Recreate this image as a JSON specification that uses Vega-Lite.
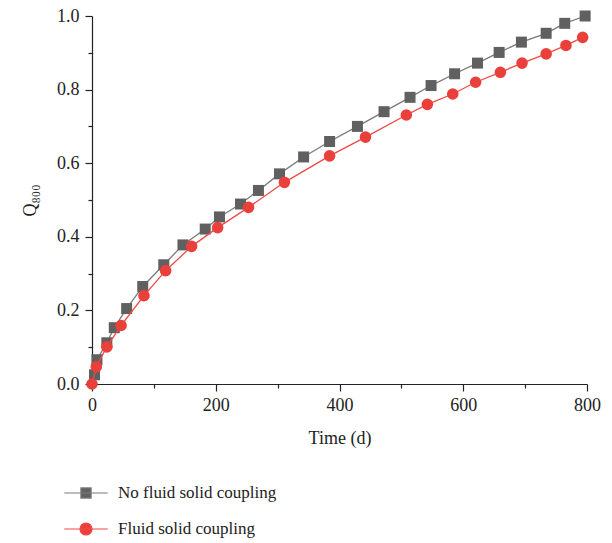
{
  "$schema": "https://vega.github.io/schema/vega-lite/v6.json",
  "width": 495,
  "height": 368,
  "autosize": {"type": "none"},
  "padding": {"left": 92, "top": 16, "right": 25, "bottom": 159},
  "background": "white",
  "config": {
    "view": {"stroke": null},
    "font": "Liberation Serif",
    "axis": {
      "labelFont": "Liberation Serif",
      "titleFont": "Liberation Serif",
      "labelFontSize": 18,
      "titleFontSize": 18,
      "labelColor": "#222",
      "titleColor": "#222",
      "titleFontWeight": "normal",
      "domainColor": "#222",
      "tickColor": "#222",
      "domainWidth": 1.2,
      "tickWidth": 1.2,
      "grid": false
    }
  },
  "datasets": {
    "pts": [
      {"x": 4, "y": 0.025, "series": "No fluid solid coupling"},
      {"x": 8, "y": 0.066, "series": "No fluid solid coupling"},
      {"x": 24, "y": 0.112, "series": "No fluid solid coupling"},
      {"x": 36, "y": 0.153, "series": "No fluid solid coupling"},
      {"x": 56, "y": 0.205, "series": "No fluid solid coupling"},
      {"x": 82, "y": 0.265, "series": "No fluid solid coupling"},
      {"x": 116, "y": 0.324, "series": "No fluid solid coupling"},
      {"x": 147, "y": 0.378, "series": "No fluid solid coupling"},
      {"x": 183, "y": 0.421, "series": "No fluid solid coupling"},
      {"x": 206, "y": 0.454, "series": "No fluid solid coupling"},
      {"x": 240, "y": 0.489, "series": "No fluid solid coupling"},
      {"x": 269, "y": 0.526, "series": "No fluid solid coupling"},
      {"x": 303, "y": 0.571, "series": "No fluid solid coupling"},
      {"x": 342, "y": 0.617, "series": "No fluid solid coupling"},
      {"x": 384, "y": 0.659, "series": "No fluid solid coupling"},
      {"x": 429, "y": 0.700, "series": "No fluid solid coupling"},
      {"x": 472, "y": 0.740, "series": "No fluid solid coupling"},
      {"x": 514, "y": 0.779, "series": "No fluid solid coupling"},
      {"x": 548, "y": 0.811, "series": "No fluid solid coupling"},
      {"x": 586, "y": 0.843, "series": "No fluid solid coupling"},
      {"x": 623, "y": 0.872, "series": "No fluid solid coupling"},
      {"x": 658, "y": 0.901, "series": "No fluid solid coupling"},
      {"x": 694, "y": 0.929, "series": "No fluid solid coupling"},
      {"x": 734, "y": 0.953, "series": "No fluid solid coupling"},
      {"x": 764, "y": 0.980, "series": "No fluid solid coupling"},
      {"x": 797, "y": 1.0, "series": "No fluid solid coupling"},
      {"x": 0, "y": 0, "series": "Fluid solid coupling"},
      {"x": 7, "y": 0.047, "series": "Fluid solid coupling"},
      {"x": 24, "y": 0.101, "series": "Fluid solid coupling"},
      {"x": 47, "y": 0.159, "series": "Fluid solid coupling"},
      {"x": 84, "y": 0.240, "series": "Fluid solid coupling"},
      {"x": 119, "y": 0.308, "series": "Fluid solid coupling"},
      {"x": 161, "y": 0.374, "series": "Fluid solid coupling"},
      {"x": 203, "y": 0.425, "series": "Fluid solid coupling"},
      {"x": 253, "y": 0.480, "series": "Fluid solid coupling"},
      {"x": 311, "y": 0.548, "series": "Fluid solid coupling"},
      {"x": 384, "y": 0.620, "series": "Fluid solid coupling"},
      {"x": 442, "y": 0.671, "series": "Fluid solid coupling"},
      {"x": 508, "y": 0.731, "series": "Fluid solid coupling"},
      {"x": 542, "y": 0.760, "series": "Fluid solid coupling"},
      {"x": 583, "y": 0.788, "series": "Fluid solid coupling"},
      {"x": 620, "y": 0.820, "series": "Fluid solid coupling"},
      {"x": 660, "y": 0.847, "series": "Fluid solid coupling"},
      {"x": 695, "y": 0.872, "series": "Fluid solid coupling"},
      {"x": 734, "y": 0.897, "series": "Fluid solid coupling"},
      {"x": 766, "y": 0.920, "series": "Fluid solid coupling"},
      {"x": 793, "y": 0.942, "series": "Fluid solid coupling"}
    ]
  },
  "data": {"name": "pts"},
  "encoding": {
    "x": {
      "field": "x", "type": "quantitative",
      "scale": {"domain": [0, 800], "nice": false, "zero": false},
      "axis": {
        "title": "Time (d)",
        "values": [0, 100, 200, 300, 400, 500, 600, 700, 800],
        "labelExpr": "datum.value % 200 === 0 ? datum.label : ''",
        "tickSize": {"condition": {"test": "datum.value % 200 !== 0", "value": 4}, "value": 7},
        "labelPadding": 5,
        "titlePadding": 15,
        "labelFlush": false
      }
    },
    "y": {
      "field": "y", "type": "quantitative",
      "scale": {"domain": [0, 1], "nice": false, "zero": false},
      "axis": {
        "title": "Q₈₀₀",
        "values": [0, 0.1, 0.2, 0.3, 0.4, 0.5, 0.6, 0.7, 0.8, 0.9, 1.0],
        "labelExpr": "round(datum.value * 10) % 2 === 0 ? format(datum.value, '.1f') : ''",
        "tickSize": {"condition": {"test": "round(datum.value * 10) % 2 !== 0", "value": 4}, "value": 7},
        "labelPadding": 6,
        "titlePadding": 17,
        "labelFlush": false
      }
    }
  },
  "layer": [
    {
      "transform": [{"filter": "datum.series === 'No fluid solid coupling'"}],
      "mark": {"type": "line", "color": "#7a7a7a", "strokeWidth": 1.3},
      "encoding": {}
    },
    {
      "transform": [{"filter": "datum.series === 'No fluid solid coupling'"}],
      "mark": {"type": "point", "shape": "square", "filled": true, "color": "#606060", "opacity": 1, "size": 121},
      "encoding": {}
    },
    {
      "transform": [{"filter": "datum.series === 'Fluid solid coupling'"}],
      "mark": {"type": "line", "color": "#ef4a45", "strokeWidth": 1.3},
      "encoding": {}
    },
    {
      "transform": [{"filter": "datum.series === 'Fluid solid coupling'"}],
      "mark": {"type": "point", "shape": "circle", "filled": true, "color": "#ea403b", "opacity": 1, "size": 135},
      "encoding": {}
    },
    {
      "transform": [{"filter": "datum.x < -1"}],
      "mark": {"type": "point", "filled": false, "opacity": 1, "strokeWidth": 1.2},
      "encoding": {
        "shape": {
          "field": "series", "type": "nominal",
          "scale": {
            "domain": ["No fluid solid coupling", "Fluid solid coupling"],
            "range": [
              "M-1.45,0H1.45M-0.34,-0.34H0.34V0.34H-0.34Z",
              "M-1.45,0H1.45M-0.4,0A0.4,0.4 0 1,0 0.4,0A0.4,0.4 0 1,0 -0.4,0Z"
            ]
          },
          "legend": {
            "title": null,
            "orient": "none",
            "legendX": -22,
            "legendY": 461,
            "padding": 0,
            "symbolSize": 900,
            "symbolStrokeWidth": 1.2,
            "labelFont": "Liberation Serif",
            "labelFontSize": 17,
            "labelColor": "#222",
            "labelOffset": 16,
            "rowPadding": 12,
            "labelLimit": 400
          }
        },
        "fill": {
          "field": "series", "type": "nominal",
          "scale": {"domain": ["No fluid solid coupling", "Fluid solid coupling"], "range": ["#606060", "#ea403b"]},
          "legend": {
            "title": null,
            "orient": "none",
            "legendX": -22,
            "legendY": 461,
            "padding": 0,
            "symbolSize": 900,
            "symbolStrokeWidth": 1.2,
            "labelFont": "Liberation Serif",
            "labelFontSize": 17,
            "labelColor": "#222",
            "labelOffset": 16,
            "rowPadding": 12,
            "labelLimit": 400
          }
        },
        "stroke": {
          "field": "series", "type": "nominal",
          "scale": {"domain": ["No fluid solid coupling", "Fluid solid coupling"], "range": ["#7a7a7a", "#ef4a45"]},
          "legend": {
            "title": null,
            "orient": "none",
            "legendX": -22,
            "legendY": 461,
            "padding": 0,
            "symbolSize": 900,
            "symbolStrokeWidth": 1.2,
            "labelFont": "Liberation Serif",
            "labelFontSize": 17,
            "labelColor": "#222",
            "labelOffset": 16,
            "rowPadding": 12,
            "labelLimit": 400
          }
        }
      }
    }
  ]
}
